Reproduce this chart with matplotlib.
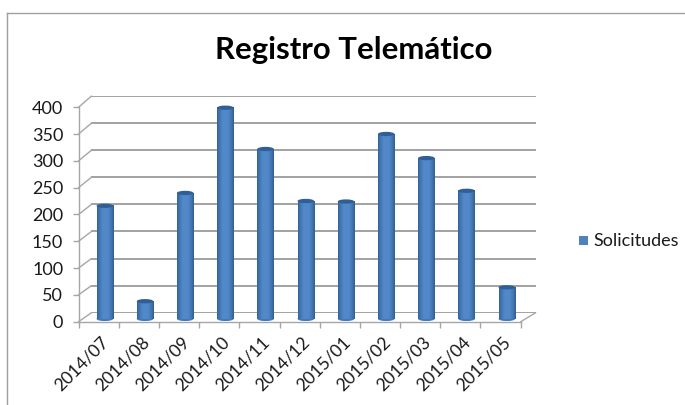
import numpy as np
import matplotlib
matplotlib.use("Agg")
import matplotlib.pyplot as plt
from matplotlib.colors import LinearSegmentedColormap
from matplotlib.patches import ConnectionPatch, Ellipse
from matplotlib.transforms import Affine2D

months = ["2014/07", "2014/08", "2014/09", "2014/10", "2014/11", "2014/12",
          "2015/01", "2015/02", "2015/03", "2015/04", "2015/05"]
solicitudes = [211, 33, 235, 394, 317, 220, 219, 345, 300, 239, 59]
y_ticks = [0, 50, 100, 150, 200, 250, 300, 350, 400]

W, H = 685, 405
plt.rcParams['font.family'] = ['Lato', 'DejaVu Sans']

def px_axes(fig, x0, x1, y_top, y_bot):
    return fig.add_axes([x0 / W, 1 - y_bot / H, (x1 - x0) / W, (y_bot - y_top) / H])

fig = plt.figure(figsize=(W / 100, H / 100), dpi=100)
grey = "#a6a6a6"

# border of the pasted chart
fig.add_artist(plt.Line2D([7 / W, 7 / W], [0, 1 - 12.5 / H], color="#a0a0a0", lw=1))
fig.add_artist(plt.Line2D([7 / W, 1], [1 - 12.5 / H, 1 - 12.5 / H], color="#a0a0a0", lw=1))

# back wall
back = px_axes(fig, 91.5, 535.7, 96, 312.7)
back.set_xlim(0, len(months))
back.set_ylim(0, 400)
back.set_xticks([])
back.set_yticks(y_ticks)
back.tick_params(left=False, labelleft=False)
back.grid(axis="y", color="#a2a2a2", lw=1.4)
back.set_axisbelow(True)
for s in back.spines.values():
    s.set_visible(False)
back.patch.set_alpha(0)

# front plane, holds ticks and bars
ax = px_axes(fig, 78.5, 520.7, 107.3, 321.7)
ax.set_xlim(0, len(months))
ax.set_ylim(0, 400)
ax.patch.set_alpha(0)
for name in ["top", "right"]:
    ax.spines[name].set_visible(False)
for name in ["left", "bottom"]:
    ax.spines[name].set_color(grey)
    ax.spines[name].set_linewidth(1)
ax.set_yticks(y_ticks)
ax.set_xticks(range(len(months) + 1))
ax.set_xticklabels([])
ax.tick_params(axis="both", color=grey, length=4, width=1, labelsize=13, labelcolor="#1a1a1a")
ax.tick_params(axis="y", pad=7)

for v in y_ticks:
    fig.add_artist(ConnectionPatch((0, v), (0, v), "data", "data", axesA=ax, axesB=back,
                                   color=grey, lw=1))
fig.add_artist(ConnectionPatch((len(months), 0), (len(months), 0), "data", "data",
                               axesA=ax, axesB=back, color=grey, lw=1))

# month labels, rotated and anchored under each category
for i, m in enumerate(months):
    ax.annotate(m, (i + 0.5, 0), xytext=(1.5, -9), textcoords="offset points",
                rotation=45, ha="right", va="top", rotation_mode="anchor",
                fontsize=12.6, color="#1a1a1a")

# cylinders: gradient image for the body, ellipses for top and base
cyl = LinearSegmentedColormap.from_list(
    "cyl", ["#34649b", "#4679b6", "#5088c8", "#5289ca", "#5088c8", "#4678b3", "#346090"])
shift = Affine2D().translate(6.2, 2.8)
tr = ax.transData + shift
bar_w = 16.5 / 40.2
ell_h = 8.0
grad = np.linspace(0, 1, 32).reshape(1, -1)
for i, v in enumerate(solicitudes):
    c = i + 0.5
    base = Ellipse((c, 0), bar_w, ell_h, fc="#4378b5", ec="none", transform=tr, zorder=3, clip_on=False)
    ax.add_patch(base)
    im = ax.imshow(grad, cmap=cyl, aspect="auto", extent=(c - bar_w / 2, c + bar_w / 2, 0, v),
                   transform=tr, zorder=3.1, interpolation="bilinear")
    im.set_clip_on(False)
    top = Ellipse((c, v), bar_w, ell_h, fc="#305f98", ec="none", transform=tr, zorder=3.2, clip_on=False)
    ax.add_patch(top)
ax.set_xlim(0, len(months))
ax.set_ylim(0, 400)

# legend, title
fig.patches.extend([plt.Rectangle((579 / W, 1 - 245 / H), 9 / W, 9 / H, fc="#4f81bd",
                                  ec="none", transform=fig.transFigure)])
fig.text(593 / W, 1 - 241 / H, "Solicitudes", fontsize=13, va="center", ha="left", color="#1a1a1a")
fig.text(353.5 / W, 1 - 50 / H, "Registro Telemático", fontsize=22.4, fontweight="bold",
         ha="center", va="center", color="black")

fig.savefig("out.png", dpi=100)
